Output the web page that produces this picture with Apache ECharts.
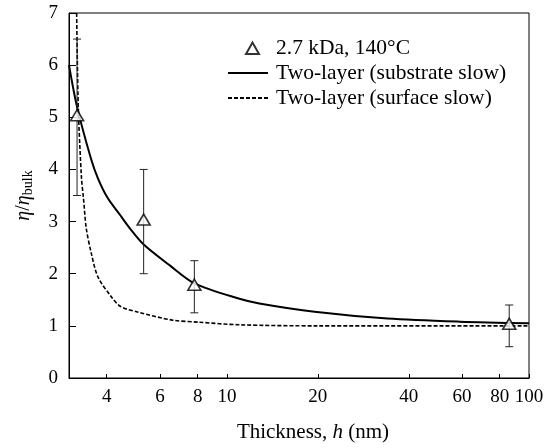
<!DOCTYPE html>
<html>
<head>
<meta charset="utf-8">
<script src="https://cdn.jsdelivr.net/npm/echarts@6/dist/echarts.min.js"></script>
<style>
  html, body { margin: 0; padding: 0; background: #fff; }
  #chart { width: 547px; height: 448px; }
</style>
</head>
<body>
<div id="chart"></div>
<script>
// measured points (2.7 kDa, 140 C)
var thickness = [3.19, 5.3, 7.8, 86];
var viscRatio = [5.0, 3.0, 1.75, 1.0];
var errLow = [3.5, 2.0, 1.25, 0.6];
var errHigh = [6.5, 4.0, 2.25, 1.4];

// two-layer model, substrate slow
var substrateH = [3.0, 3.19, 3.55, 3.74, 4.03, 4.41, 4.8, 5.3, 6.5, 7.83, 11.0, 12.8, 19.5, 34, 59, 100];
var substrateEta = [6.0, 5.2, 4.2, 3.83, 3.45, 3.14, 2.85, 2.56, 2.15, 1.81, 1.52, 1.43, 1.27, 1.14, 1.08, 1.05];
// two-layer model, surface slow
var surfaceH = [3.18, 3.22, 3.3, 3.35, 3.42, 3.55, 3.74, 4.14, 4.45, 5.1, 6.6, 8.1, 11, 20, 100];
var surfaceEta = [7.0, 5.2, 3.83, 3.45, 2.88, 2.41, 1.94, 1.56, 1.37, 1.26, 1.11, 1.07, 1.02, 1.0, 1.0];

var xTicks = [4, 6, 8, 10, 20, 40, 60, 80, 100];
var xMin = 3, xMax = 100;

var FONT = 'Liberation Serif';

// log axis done by hand so the 4,6,8.. ticks can be placed
function lg(v) { return Math.log10(v); }
function pairs(xs, ys) {
  return xs.map(function (x, i) { return [lg(x), ys[i]]; });
}

// small triangle inside a 40x14 legend box (the M points only stretch the box)
var legendTriangle = 'path://M0,0 M40,14 M18,13 L24.5,1.5 L31,13 Z';

var chart = echarts.init(document.getElementById('chart'));
chart.setOption({
  backgroundColor: '#fff',
  animation: false,
  textStyle: { fontFamily: FONT, color: '#000' },
  grid: {
    left: 69, right: 18, top: 13, bottom: 66,
    show: true, borderColor: '#000', borderWidth: 1, backgroundColor: 'transparent'
  },
  legend: {
    orient: 'vertical',
    left: 222,
    top: 32,
    itemWidth: 40,
    itemHeight: 14,
    itemGap: 3,
    textStyle: { fontFamily: FONT, fontSize: 21.5, color: '#000', padding: [0, 0, 0, 3] },
    data: [
      { name: '2.7 kDa, 140°C', icon: legendTriangle },
      { name: 'Two-layer (substrate slow)', itemStyle: { opacity: 0 } },
      { name: 'Two-layer (surface slow)', itemStyle: { opacity: 0 } }
    ]
  },
  xAxis: {
    type: 'value',
    min: lg(xMin),
    max: lg(xMax),
    name: '{n|Thickness, }{i|h}{n| (nm)}',
    nameLocation: 'middle',
    nameGap: 44,
    nameTextStyle: {
      padding: [0, 0, 0, 28],
      rich: {
        n: { fontFamily: FONT, fontSize: 21, color: '#000' },
        i: { fontFamily: FONT, fontSize: 21, fontStyle: 'italic', color: '#000' }
      }
    },
    axisLine: { lineStyle: { color: '#000', width: 1 } },
    axisTick: {
      inside: true, length: 4, lineStyle: { color: '#000' },
      customValues: xTicks.map(lg)
    },
    axisLabel: {
      fontFamily: FONT, fontSize: 19, color: '#000', margin: 10,
      customValues: xTicks.map(lg),
      formatter: function (v) { return String(Math.round(Math.pow(10, v))); }
    },
    splitLine: { show: false }
  },
  yAxis: {
    type: 'value',
    min: 0, max: 7, interval: 1,
    name: '{i|η}{n|/}{i|η}{s|bulk}',
    nameLocation: 'middle',
    nameGap: 34,
    nameTextStyle: {
      rich: {
        i: { fontFamily: FONT, fontSize: 20, fontStyle: 'italic', color: '#000' },
        n: { fontFamily: FONT, fontSize: 20, color: '#000' },
        s: { fontFamily: FONT, fontSize: 14, color: '#000', padding: [8, 0, 0, 0] }
      }
    },
    axisLine: { lineStyle: { color: '#000', width: 1 } },
    axisTick: { inside: true, length: 7, lineStyle: { color: '#000' } },
    axisLabel: { fontFamily: FONT, fontSize: 19, color: '#000', margin: 11 },
    splitLine: { show: false }
  },
  series: [
    {
      name: 'Two-layer (substrate slow)',
      type: 'line',
      smooth: 0.3,
      symbol: 'none',
      lineStyle: { color: '#000', width: 2 },
      itemStyle: { color: '#000' },
      data: pairs(substrateH, substrateEta),
      z: 3
    },
    {
      name: 'Two-layer (surface slow)',
      type: 'line',
      smooth: 0.3,
      symbol: 'none',
      lineStyle: { color: '#000', width: 1.6, type: [4, 2] },
      itemStyle: { color: '#000' },
      data: pairs(surfaceH, surfaceEta),
      z: 3
    },
    {
      // error bars
      type: 'custom',
      z: 4,
      renderItem: function (params, api) {
        var x = api.value(0);
        var lo = api.coord([x, api.value(1)]);
        var hi = api.coord([x, api.value(2)]);
        var w = 4;
        var st = { stroke: '#222', lineWidth: 1 };
        return {
          type: 'group',
          children: [
            { type: 'line', shape: { x1: lo[0], y1: lo[1], x2: hi[0], y2: hi[1] }, style: st },
            { type: 'line', shape: { x1: lo[0] - w, y1: lo[1], x2: lo[0] + w, y2: lo[1] }, style: st },
            { type: 'line', shape: { x1: hi[0] - w, y1: hi[1], x2: hi[0] + w, y2: hi[1] }, style: st }
          ]
        };
      },
      data: thickness.map(function (h, i) { return [lg(h), errLow[i], errHigh[i]]; })
    },
    {
      name: '2.7 kDa, 140°C',
      type: 'scatter',
      symbol: 'triangle',
      symbolSize: [13, 11],
      symbolOffset: [0, -2],
      itemStyle: { color: '#fff', borderColor: '#000', borderWidth: 1.6 },
      data: pairs(thickness, viscRatio),
      z: 5
    }
  ]
});
</script>
</body>
</html>
